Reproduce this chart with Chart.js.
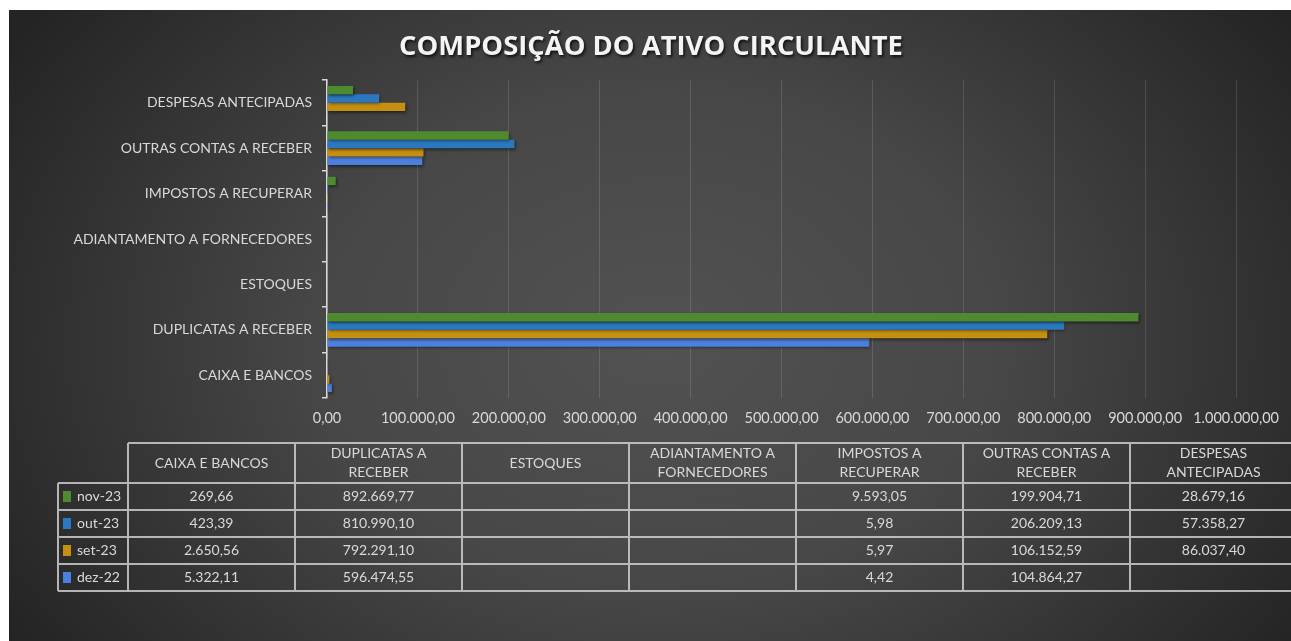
<!DOCTYPE html>
<html><head><meta charset="utf-8">
<script src="https://cdn.jsdelivr.net/npm/chart.js@4.4.1/dist/chart.umd.min.js"></script>
<style>
html,body{margin:0;padding:0;background:#fff;width:1291px;height:641px;overflow:hidden}
#wrap{position:absolute;left:9px;top:10px;width:1282px;height:631px}
canvas{display:block}
</style></head><body>
<div id="wrap"><canvas id="c" width="1282" height="631"></canvas></div>
<script>
// ---- data ----
const categories = ['CAIXA E BANCOS','DUPLICATAS A RECEBER','ESTOQUES','ADIANTAMENTO A FORNECEDORES','IMPOSTOS A RECUPERAR','OUTRAS CONTAS A RECEBER','DESPESAS ANTECIPADAS'];
const seriesNames = ['nov-23','out-23','set-23','dez-22'];
const nov23 = [269.66, 892669.77, null, null, 9593.05, 199904.71, 28679.16];
const out23 = [423.39, 810990.10, null, null, 5.98, 206209.13, 57358.27];
const set23 = [2650.56, 792291.10, null, null, 5.97, 106152.59, 86037.40];
const dez22 = [5322.11, 596474.55, null, null, 4.42, 104864.27, null];
const xTickValues = [0,100000,200000,300000,400000,500000,600000,700000,800000,900000,1000000];
const titleText = 'COMPOSIÇÃO DO ATIVO CIRCULANTE';

// ---- styles ----
const seriesColors = ['#4e8a30','#2c78c0','#c58f10','#4d80de'];
const FONT = 'Lato, "Open Sans", sans-serif';
const TXT = '#d9d9d9';

function fmt(v){
  const neg = v < 0; v = Math.abs(v);
  let [i,d] = v.toFixed(2).split('.');
  i = i.replace(/\B(?=(\d{3})+(?!\d))/g,'.');
  return (neg?'-':'') + i + ',' + d;
}

const seriesData = [nov23,out23,set23,dez22];
const chartLabels = categories.slice().reverse();
const datasets = seriesNames.map((n,i)=>({
  label:n,
  data: seriesData[i].slice().reverse(),
  backgroundColor: seriesColors[i],
  borderWidth:0,
  categoryPercentage:0.74,
  barPercentage:1
}));

const bgPlugin = {
  id:'bg',
  beforeDraw(chart){
    const {ctx,width,height} = chart;
    ctx.save();
    const cx = 650, cy = 330, rx = 760, ry = 560, s = ry/rx;
    ctx.translate(cx,cy); ctx.scale(1,s);
    const g = ctx.createRadialGradient(0,0,0,0,0,rx);
    g.addColorStop(0,'#525252');
    g.addColorStop(0.45,'#474747');
    g.addColorStop(1,'#242424');
    ctx.fillStyle = g;
    ctx.fillRect(-cx,-cy/s,width,height/s);
    ctx.restore();
  },
  beforeDatasetsDraw(chart){
    const ctx = chart.ctx;
    ctx.save();
    ctx.shadowColor = 'rgba(0,0,0,0.55)';
    ctx.shadowBlur = 3;
    ctx.shadowOffsetX = 1;
    ctx.shadowOffsetY = 1.5;
  },
  afterDatasetsDraw(chart){
    chart.ctx.restore();
  }
};

const titlePlugin = {
  id:'shadowTitle',
  afterDraw(chart){
    const ctx = chart.ctx;
    ctx.save();
    let size = 26;
    ctx.font = '700 ' + size + 'px "Open Sans", Lato, sans-serif';
    const w = ctx.measureText(titleText).width;
    size = size * 504 / w;
    ctx.font = '700 ' + size.toFixed(2) + 'px "Open Sans", Lato, sans-serif';
    ctx.textAlign = 'center'; ctx.textBaseline = 'middle';
    ctx.shadowColor = 'rgba(0,0,0,0.75)';
    ctx.shadowBlur = 3; ctx.shadowOffsetX = 1.5; ctx.shadowOffsetY = 2;
    ctx.fillStyle = '#f4f4f4';
    ctx.fillText(titleText, 642, 37);
    ctx.restore();
  }
};

const tablePlugin = {
  id:'datatable',
  afterDraw(chart){
    const ctx = chart.ctx;
    const legendLeft = 49, colLeft = 119, colW = 167, headTop = 433, headBot = 473, rowH = 27;
    const nCols = categories.length, nRows = seriesNames.length;
    const right = colLeft + colW*nCols;
    const bottom = headBot + rowH*nRows;
    ctx.save();
    ctx.strokeStyle = 'rgba(215,215,215,0.8)';
    ctx.lineWidth = 2;
    ctx.beginPath();
    ctx.moveTo(colLeft, headTop); ctx.lineTo(right, headTop);
    for(let r=0;r<=nRows;r++){
      const y = headBot + r*rowH;
      ctx.moveTo(legendLeft, y); ctx.lineTo(right, y);
    }
    ctx.moveTo(legendLeft, headBot); ctx.lineTo(legendLeft, bottom);
    for(let c=0;c<=nCols;c++){
      const x = colLeft + c*colW;
      ctx.moveTo(x, headTop); ctx.lineTo(x, bottom);
    }
    ctx.stroke();
    ctx.fillStyle = TXT;
    ctx.font = '14px ' + FONT;
    ctx.textAlign = 'center'; ctx.textBaseline = 'middle';
    const maxW = colW - 26;
    categories.forEach((cat,c)=>{
      const words = cat.split(' ');
      const lines = []; let cur = '';
      words.forEach(w=>{
        const t = cur ? cur + ' ' + w : w;
        if (ctx.measureText(t).width > maxW && cur){ lines.push(cur); cur = w; } else cur = t;
      });
      if (cur) lines.push(cur);
      const cx = colLeft + c*colW + colW/2;
      const cy = (headTop + headBot)/2;
      const lh = 19;
      lines.forEach((ln,k)=>{
        ctx.fillText(ln, cx, cy + (k - (lines.length-1)/2)*lh);
      });
    });
    seriesNames.forEach((name,r)=>{
      const cy = headBot + r*rowH + rowH/2;
      ctx.fillStyle = seriesColors[r];
      ctx.fillRect(legendLeft + 5, cy - 5.5, 8, 11);
      ctx.fillStyle = TXT;
      ctx.textAlign = 'left';
      ctx.fillText(name, legendLeft + 19, cy);
      ctx.textAlign = 'center';
      seriesData[r].forEach((v,c)=>{
        if (v === null || v === undefined) return;
        ctx.fillText(fmt(v), colLeft + c*colW + colW/2, cy);
      });
    });
    ctx.restore();
  }
};

new Chart(document.getElementById('c'), {
  type:'bar',
  data:{ labels: chartLabels, datasets },
  options:{
    indexAxis:'y',
    responsive:false,
    animation:false,
    devicePixelRatio:1,
    layout:{ padding:{ left:0, right:54, top:70, bottom:213 } },
    plugins:{
      legend:{ display:false },
      tooltip:{ enabled:false },
      title:{ display:false }
    },
    scales:{
      x:{
        min:0, max:1000000,
        afterBuildTicks(scale){ scale.ticks = xTickValues.map(v=>({value:v})); },
        afterFit(scale){ scale.height = 30; },
        border:{ display:false },
        grid:{ color:'rgba(255,255,255,0.13)', lineWidth:1, drawTicks:false },
        ticks:{ color:TXT, font:{ family:FONT, size:14.5 }, padding:12, maxRotation:0, autoSkip:false,
          callback:(v)=>fmt(v) }
      },
      y:{
        afterFit(scale){ scale.width = 318; },
        border:{ display:true, color:'#d9d9d9', width:1.5 },
        grid:{ display:true, drawOnChartArea:false, drawTicks:true, tickLength:5, color:'#d9d9d9', lineWidth:1.5 },
        ticks:{ color:TXT, font:{ family:FONT, size:14 }, padding:10, autoSkip:false }
      }
    }
  },
  plugins:[bgPlugin, tablePlugin, titlePlugin]
});
</script>
</body></html>
